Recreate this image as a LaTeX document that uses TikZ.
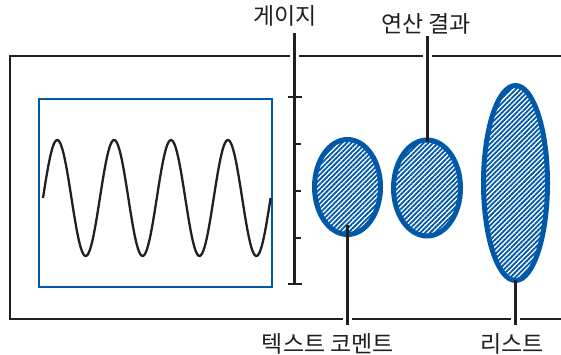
\documentclass[tikz,border=0pt]{standalone}
\usepackage{fontspec}
\setmainfont{Noto Sans CJK KR}
\usetikzlibrary{shapes.geometric,patterns.meta,calc}
\definecolor{inkgray}{RGB}{35,31,32}
\definecolor{scopeblue}{RGB}{0,88,168}
\tikzset{
    lbl/.style={font=\fontsize{23}{27}\selectfont, text=inkgray,
                inner sep=0pt},
    blob/.style={ellipse, draw=scopeblue, line width=5pt, inner sep=0pt,
                 pattern={Lines[angle=45, distance=3.4pt, line width=1.8pt]},
                 pattern color=scopeblue},
}
\begin{document}
\begin{tikzpicture}[
    x=1pt, y=-1pt,
    lead/.style={line width=3pt, draw=inkgray},
    tick/.style={line width=2.5pt, draw=inkgray},
    halo/.style={line width=9pt, draw=white},
    wave/.style={line width=2.3pt, draw=inkgray, line join=round}
]
    \fill[white] (0,0) rectangle (561,355);
    \useasboundingbox (0,0) rectangle (561,355);
    \coordinate (ftl) at (10,56);
    \coordinate (fbl) at (10,319);
    \draw[line width=1.3pt, inkgray] (561,56) -- (ftl) -- (fbl) -- (561,319);
    \draw[line width=2.2pt, scopeblue] (38.7,98.7) rectangle (272,287);
    \draw[wave] plot[domain=43:270.6, samples=200]
        (\x,{198-58*sin((\x-43)*6.3269)});
    \node[blob, minimum width=66pt, minimum height=95pt] (cmtblob) at (347.5,187) {};
    \node[blob, minimum width=67pt, minimum height=96pt] (resblob) at (427,188) {};
    \node[blob, minimum width=64pt, minimum height=195pt] (lstblob) at (515.5,183) {};
    \node[lbl, anchor=south] (gauge) at (285,27) {게이지};
    \node[lbl, anchor=south] (res) at (426,34) {연산 결과};
    \node[lbl, anchor=north] (cmt) at (328,333) {텍스트 코멘트};
    \node[lbl, anchor=north] (lst) at (512,333) {리스트};
    \coordinate (gtop) at (294,33);
    \coordinate (gbot) at (294,285);
    \foreach \p/\f in {gtop/ftl, resblob/ftl, cmtblob/fbl, lstblob/fbl}
        \path[halo] ($(\p |- \f)+(0,-2)$) -- ($(\p |- \f)+(0,2)$);
    \draw[lead] (gtop) -- (gbot);
    \foreach \y in {97,284}
        \draw[tick] (288,\y) -- (302,\y);
    \foreach \y in {144,191,238}
        \draw[tick] (294,\y) -- (301,\y);
    \draw[lead, shorten <=2pt, shorten >=-4.5pt] (res.south -| resblob.north) -- (resblob.north);
    \draw[lead, shorten <=-10pt, shorten >=8pt] (cmtblob.south) -- (cmtblob.south |- cmt.north);
    \draw[lead, shorten <=-3pt, shorten >=8pt] (lstblob.south) -- (lstblob.south |- lst.north);
\end{tikzpicture}
\end{document}
